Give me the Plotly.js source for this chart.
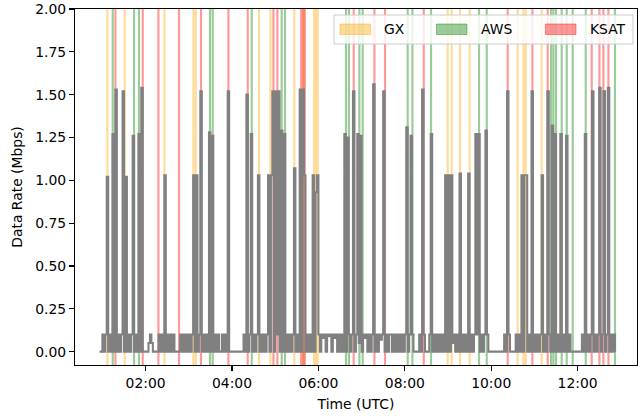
<!DOCTYPE html>
<html><head><meta charset="utf-8">
<script src="https://cdn.plot.ly/plotly-3.0.1.min.js"></script>
<style>html,body{margin:0;padding:0;background:#fff}#chart{width:638px;height:416px}</style>
</head><body><div id="chart"></div>
<script>
// ---- data (time in minutes after 00:00 UTC) ----
const sampleStartMin = 56;   // first sample 00:56
const sampleStepMin = 2;     // sampling interval
const rateRows = [
 [0,0,0.1,0,0.1,1.02,0,0.1,0,1.27],          // 00:56
 [0,1.53,0,0.1,0,0.1,1.52,0,1.02,0],          // 01:16
 [0.1,0,0.1,1.26,0,0.1,0,1.27,0,1.54],        // 01:36
 [0,0,0,0,0.05,0.1,0.05,0,0,0],               // 01:56
 [0,0.1,0,0.1,0,1.03,0,0.1,0,0.1],            // 02:16
 [0,0.1,0,0,0,0,0.1,0,0.1,0],                 // 02:36
 [0.1,0,0.1,0,0.1,1.03,0,1.03,0,0.1],         // 02:56
 [1.52,0,0.1,0,0.1,0,1.28,0,1.26,0],          // 03:16
 [0.1,0,0.1,0,0,0.1,0,0.1,0,1.52],            // 03:36
 [0,0,0,0,0,0,0,0,0,0],                       // 03:56
 [0.1,0,1.50,0,0.1,1.27,0,0.1,0,0.1],         // 04:16
 [1.03,0,0.1,0,0.1,0,0.1,1.03,0,1.03],        // 04:36
 [1.52,0,1.52,0.1,1.52,0,1.29,0,1.27,0],      // 04:56
 [0.1,0,0.1,0,0.1,1.07,0,0.1,0,1.53],         // 05:16
 [0,1.53,1.03,0,0.1,0,0.1,0,1.03,0],          // 05:36
 [0.93,1.03,0.1,0,0.1,0.08,0.1,0,0.1,0.09],   // 05:56
 [0.1,0,0.1,0.08,0.1,0,0.1,0,0.1,0],          // 06:16
 [1.27,0,1.25,0.1,0,0.1,1.52,0,0.1,1.27],     // 06:36
 [0.05,1.26,0,0.1,0.08,0.1,0,0.1,0,0.1],      // 06:56
 [1.56,0,0.1,0,0.1,0.07,0.1,1.52,0,0.1],      // 07:16
 [0,0.1,0.1,0,0.1,0,0.1,0,0.1,0],             // 07:36
 [0.1,0,0.1,1.31,0,0.1,1.26,0.1,0,0],         // 07:56
 [0,0,0.1,0,1.53,0.1,0,0,0,0.1],              // 08:16
 [1.27,0,0.1,0,0.1,0,0.1,0,0.1,0],            // 08:36
 [1.03,0,1.03,0,1.03,0.05,0.1,0,0.1,0],       // 08:56
 [1.04,0,0.1,0,0.1,0,1.04,0,0.1,0],           // 09:16
 [0.1,1.27,0.1,1.27,0,0.1,0,0.1,1.29,0.1],    // 09:36
 [0,0,0,0,0,0,0,0,0,0],                       // 09:56
 [0,0.1,0,1.52,0.1,0,0,0,0,0.1],              // 10:16
 [0,0.1,0,1.03,0,1.03,1.03,0,0.1,0],          // 10:36
 [1.52,0,0.1,0,0.1,0,0.1,1.03,0,0.1],         // 10:56
 [0,1.52,0.1,0,1.32,0,1.27,0,0.1,0],          // 11:16
 [1.27,0,0.1,0,1.26,0,0.1,0,0,0],             // 11:36
 [0,0,0,0,0,0.1,0,1.27,0,0.1],                // 11:56
 [0,0.1,1.52,0,0.1,0,0.1,1.54,0,0.1],         // 12:16
 [1.52,0,0.1,1.54,0,0.1,0,0.1,0]              // 12:36
];

// ground-station contact windows [start, end] in minutes
const gxStart  = [65.4, 89.5, 144.6, 184.9, 188.1, 276.0, 291.8, 325.0, 337.5, 352.5, 538.1, 543.6, 555.2, 568.6, 635.3, 643.2, 646.4, 668.6];
const gxEnd    = [68.4, 92.5, 147.6, 187.9, 191.1, 279.0, 294.8, 328.0, 341.5, 360.5, 541.1, 546.6, 558.2, 571.6, 638.3, 646.2, 649.4, 671.6];
const awsStart = [72.8, 102.4, 109.3, 207.9, 211.7, 265.9, 307.5, 312.1, 396.8, 400.9, 415.4, 420.0, 482.5, 489.1, 514.9, 581.6, 592.3, 681.6, 684.9, 688.5, 696.4, 703.4, 711.7, 729.8, 770.4];
const awsEnd   = [75.8, 105.4, 112.3, 210.9, 214.7, 268.9, 310.5, 315.1, 399.8, 403.9, 418.4, 423.0, 485.5, 492.1, 517.9, 584.6, 595.3, 684.6, 687.9, 691.5, 699.4, 706.4, 714.7, 732.8, 773.4];
const ksatStart= [76.6, 114.5, 136.3, 164.9, 195.4, 233.5, 260.3, 296.0, 301.5, 334.5, 407.5, 436.3, 451.0, 504.8, 621.4, 655.7, 677.0, 738.1, 748.8, 754.3, 761.3];
const ksatEnd  = [79.6, 117.5, 139.3, 167.9, 198.4, 236.5, 263.3, 299.0, 304.5, 342.5, 410.5, 439.3, 454.0, 507.8, 624.4, 658.7, 680.0, 741.1, 751.8, 757.3, 764.3];

const stationNames = ['GX', 'AWS', 'KSAT'];
const xTickMin = [120, 240, 360, 480, 600, 720];
const xTickLabels = ['02:00', '04:00', '06:00', '08:00', '10:00', '12:00'];

// ---- build ----
const rateMbps = rateRows.flat();
const sampleTimeMin = rateMbps.map((_, i) => sampleStartMin + i * sampleStepMin);

const stationColors = ['rgba(255,165,0,0.4)', 'rgba(0,128,0,0.4)', 'rgba(255,0,0,0.4)'];
const windows = [[gxStart, gxEnd], [awsStart, awsEnd], [ksatStart, ksatEnd]];

const shapes = [];
windows.forEach(([s, e], k) => {
  s.forEach((x0, i) => shapes.push({
    type: 'rect', xref: 'x', yref: 'paper', x0: x0, x1: e[i], y0: 0, y1: 1,
    fillcolor: stationColors[k], line: {width: 0}, layer: 'below'
  }));
});

// legend drawn in pixel positions of the figure
const L = 75, T = 9, PW = 562, PH = 356;
const px = v => (v - L) / PW;
const py = v => (T + PH - v) / PH;
shapes.push({type: 'rect', xref: 'paper', yref: 'paper', x0: px(334), x1: px(633), y0: py(44), y1: py(15),
  fillcolor: 'rgba(255,255,255,0.8)', line: {color: '#cccccc', width: 1}, layer: 'above'});
const patchX = [340, 436.5, 545.5];
const textX = [383, 480, 589];
const annotations = [];
stationNames.forEach((name, k) => {
  shapes.push({type: 'rect', xref: 'paper', yref: 'paper', x0: px(patchX[k]), x1: px(patchX[k] + 30.5),
    y0: py(34.5), y1: py(24), fillcolor: stationColors[k], line: {color: stationColors[k], width: 1}, layer: 'above'});
  annotations.push({xref: 'paper', yref: 'paper', x: px(textX[k]), y: py(29.5), xanchor: 'left', yanchor: 'middle',
    text: name, showarrow: false, borderpad: 0, font: {size: 13.9, color: '#000'}});
});

const trace = {
  x: sampleTimeMin, y: rateMbps, type: 'scatter', mode: 'lines',
  line: {color: '#808080', width: 2.1, shape: 'hv', simplify: false},
  hoverinfo: 'skip', showlegend: false
};

const layout = {
  width: 638, height: 416,
  margin: {l: 75, r: 1, t: 9, b: 51, pad: 0},
  paper_bgcolor: '#ffffff', plot_bgcolor: '#ffffff',
  font: {family: 'DejaVu Sans', size: 13.9, color: '#000'},
  showlegend: false,
  xaxis: {
    range: [21.9, 802.5], tickmode: 'array', tickvals: xTickMin, ticktext: xTickLabels,
    ticks: 'outside', ticklen: 5, tickwidth: 1.1, tickcolor: '#000',
    showline: true, linecolor: '#000', linewidth: 1.1, mirror: true,
    showgrid: false, zeroline: false, automargin: false,
    title: {text: 'Time (UTC)', standoff: 9, font: {size: 13.9}}
  },
  yaxis: {
    range: [-0.078, 2.0], tickmode: 'linear', tick0: 0, dtick: 0.25, tickformat: '.2f',
    ticks: 'outside', ticklen: 5, tickwidth: 1.1, tickcolor: '#000',
    showline: true, linecolor: '#000', linewidth: 1.1, mirror: true,
    showgrid: false, zeroline: false, automargin: false,
    title: {text: 'Data Rate (Mbps)', standoff: 9, font: {size: 13.9}}
  },
  shapes: shapes, annotations: annotations
};

Plotly.newPlot('chart', [trace], layout, {staticPlot: true, displayModeBar: false});
</script>
</body></html>
